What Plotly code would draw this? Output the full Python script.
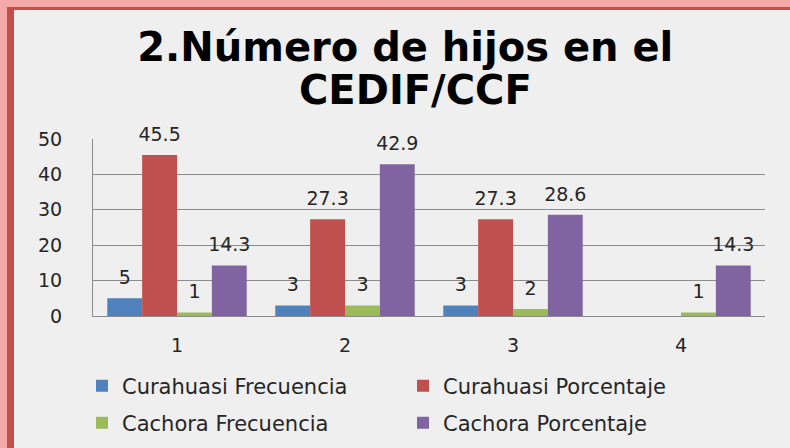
import plotly.graph_objects as go

# ---------- data ----------
categorias = ["1", "2", "3", "4"]
curahuasi_frec = [5, 3, 3, None]
curahuasi_porc = [45.5, 27.3, 27.3, None]
cachora_frec = [1, 3, 2, 1]
cachora_porc = [14.3, 42.9, 28.6, 14.3]

titulo = ["2.Número de hijos en el", "CEDIF/CCF"]

series = [
    ("Curahuasi Frecuencia", curahuasi_frec, "#4f81bd", "legend"),
    ("Curahuasi Porcentaje", curahuasi_porc, "#c0504d", "legend"),
    ("Cachora Frecuencia", cachora_frec, "#9bbb59", "legend2"),
    ("Cachora Porcentaje", cachora_porc, "#8064a2", "legend2"),
]

W, H = 790, 448
L, R, T, B = 93, 25, 139, 132
PW, PH = W - L - R, H - T - B


def px_x(v):
    return (v - L) / PW


def px_y(v):
    return (H - B - v) / PH


FONT = "DejaVu Sans"
TXT = "#262626"
TITLE_FONT = dict(family="DejaVu Sans", size=40, color="#000000")


def etiqueta(v):
    if v is None:
        return ""
    # small trailing line to lift the label a bit above the bar
    return f"<span style='font-size:19px'>{v:g}</span><br>\u00a0"


fig = go.Figure()
for nombre, vals, color, leg in series:
    fig.add_trace(go.Bar(
        x=categorias, y=vals, name=nombre,
        marker=dict(color=color, line=dict(width=0)),
        text=[etiqueta(v) for v in vals],
        textposition="outside",
        textangle=0,
        constraintext="none",
        cliponaxis=False,
        textfont=dict(family=FONT, size=7, color=TXT),
        legend=leg,
    ))

# frame of the slide (pink band + dark red line)
borde = [
    (0, 7, 0, H, "#f4a9a9"),
    (0, W, 0, 7, "#f4a9a9"),
    (7, 14, 7, H, "#c0504d"),
    (7, W, 7, 10, "#c0504d"),
]
shapes = [
    dict(type="rect", xref="paper", yref="paper", layer="below",
         x0=px_x(a), x1=px_x(b), y0=px_y(d), y1=px_y(c),
         fillcolor=col, line=dict(width=0))
    for a, b, c, d, col in borde
]

leg_common = dict(orientation="h", xanchor="left", yanchor="middle",
                  entrywidth=276, bgcolor="rgba(0,0,0,0)",
                  font=dict(family=FONT, size=21, color=TXT))

fig.update_layout(
    width=W, height=H,
    margin=dict(l=L, r=R, t=T, b=B, autoexpand=False),
    paper_bgcolor="#efefef",
    plot_bgcolor="#efefef",
    barmode="group",
    bargap=0.17,
    bargroupgap=0,
    title=dict(
        text=f"<b>{titulo[0]}</b>",
        font=TITLE_FONT,
        x=0.513, xanchor="center", y=1 - 47 / H, yanchor="middle",
    ),
    xaxis=dict(
        showline=True, linecolor="#8c8c8c", linewidth=1,
        ticks="", ticklabelstandoff=12,
        tickfont=dict(family=FONT, size=19, color=TXT),
    ),
    yaxis=dict(
        range=[0, 50], dtick=10,
        showgrid=True, gridcolor="#8c8c8c", gridwidth=1,
        showline=True, linecolor="#8c8c8c", linewidth=1,
        zeroline=False,
        ticks="", ticklabelstandoff=26,
        tickfont=dict(family=FONT, size=19, color=TXT),
    ),
    legend=dict(x=px_x(82), y=px_y(386), **leg_common),
    legend2=dict(x=px_x(82), y=px_y(423), **leg_common),
    shapes=shapes,
)

# second line of the title, placed closer than the default line height
fig.add_annotation(
    text=f"<b>{titulo[1]}</b>", font=TITLE_FONT, showarrow=False,
    xref="paper", yref="paper", x=px_x(415), y=px_y(90),
    xanchor="center", yanchor="middle",
)

fig.write_html("out.html", config={"displayModeBar": False},
               post_script="document.body.style.margin='0';")
